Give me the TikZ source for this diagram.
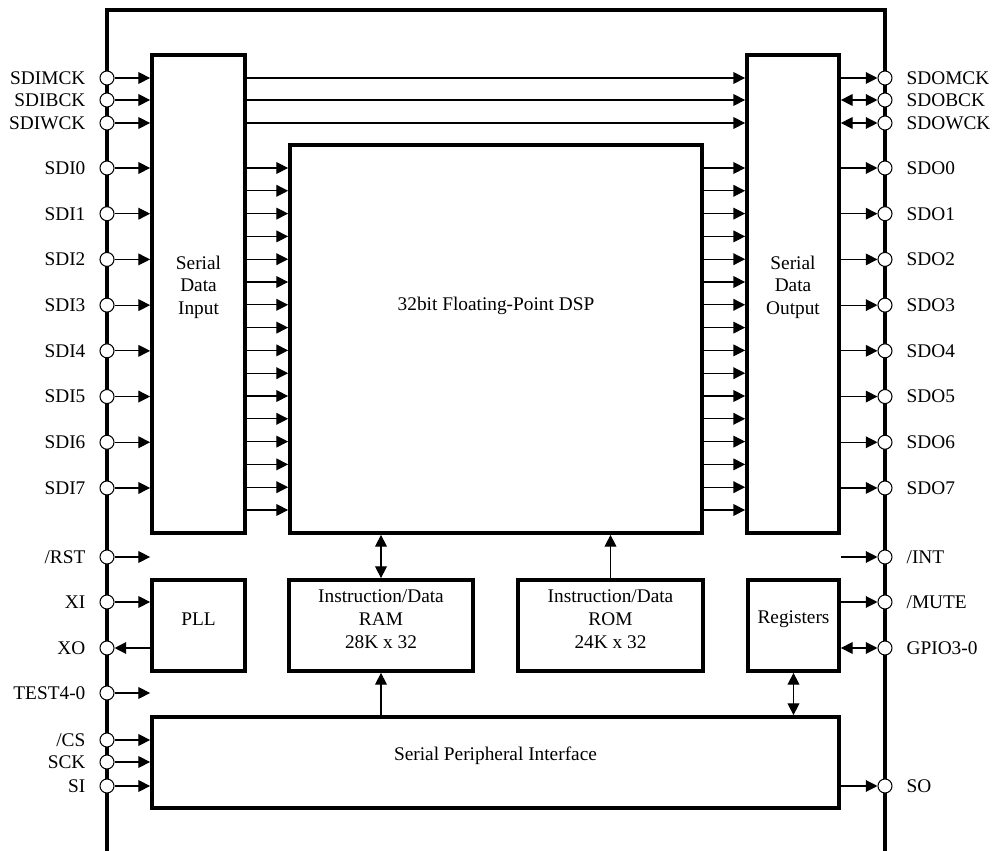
\documentclass[tikz,border=0pt]{standalone}
\usepackage{fontspec}
\setmainfont{Liberation Serif}
\usetikzlibrary{arrows.meta, positioning, fit, calc}

\begin{document}
\begin{tikzpicture}[
    x=0.03cm, y=-0.03cm,
    font=\fontsize{16.5}{19.5}\selectfont,
    outline/.style={line width=3.2pt},
    blk/.style={draw, line width=3.2pt, inner sep=0pt, align=center},
    pad/.style={circle, draw, fill=white, line width=0.9pt, minimum size=0.42cm, inner sep=0pt},
    lbl/.style={text height=11pt, text depth=0pt, label distance=8.5pt},
    sig/.style={-{Triangle[length=10pt, width=10pt]}, line width=1pt},
    bus/.style={{Triangle[length=10pt, width=10pt]}-{Triangle[length=10pt, width=10pt]}, line width=1pt}
]
\useasboundingbox (0,0) rectangle (994,851);

% chip outline
\draw[outline] (107,851) -- (107,10) -- (885,10) -- (885,851);

% blocks
\node[blk, fit={(152,55) (245,533)}] (sdi) {Serial\\Data\\Input};
\node[blk, fit={(747,55) (839,533)}] (sdo) {Serial\\Data\\Output};
\node[blk, fit={(290,145) (702,533)}] (dsp) {};
\node (dsptxt) at (496,306) {32bit Floating-Point DSP};
\node[blk, fit={(152,580) (245,671)}] (pll) {PLL};
\node[blk, fit={(289,580) (473,671)}] (ram) {Instruction/Data\\RAM\\28K x 32};
\node[blk, fit={(518,580) (703,671)}] (rom) {Instruction/Data\\ROM\\24K x 32};
\node[blk, fit={(748,580) (839,671)}] (reg) {Registers};
\node[blk, fit={(152,717) (839,808)}] (spi) {Serial Peripheral Interface};

% pins, left side
\foreach \nm/\txt/\y in {imck/SDIMCK/78, ibck/SDIBCK/100, iwck/SDIWCK/123,
    rst/{/RST}/557, xi/XI/602, xo/XO/648, test/TEST4-0/693,
    cs/{/CS}/740, sck/SCK/762, si/SI/786}
  \node[pad, label={[lbl]left:\txt}] (\nm) at (107,\y) {};
\foreach \i in {0,...,7}
  \node[pad, label={[lbl]left:SDI\i}] (pi\i) at (107,{168+45.71*\i}) {};

% pins, right side
\foreach \nm/\txt/\y in {omck/SDOMCK/78, obck/SDOBCK/100, owck/SDOWCK/123,
    int/{/INT}/557, mute/{/MUTE}/602, gpio/GPIO3-0/648, so/SO/786}
  \node[pad, label={[lbl]right:\txt}] (\nm) at (885,\y) {};
\foreach \i in {0,...,7}
  \node[pad, label={[lbl]right:SDO\i}] (po\i) at (885,{168+45.71*\i}) {};

% serial data in / out
\foreach \p in {imck, ibck, iwck} {
  \draw[sig] (\p) -- (\p -| sdi.west);
  \draw[sig] (\p -| sdi.east) -- (\p -| sdo.west);
}
\draw[sig] (omck -| sdo.east) -- (omck);
\draw[bus] (obck -| sdo.east) -- (obck);
\draw[bus] (owck -| sdo.east) -- (owck);
\foreach \i in {0,...,7} {
  \draw[sig] (pi\i) -- (pi\i -| sdi.west);
  \draw[sig] (po\i -| sdo.east) -- (po\i);
}

% data paths through the DSP
\foreach \k in {0,...,15} {
  \path (0,{168+22.8*\k}) coordinate (r\k);
  \draw[sig] (sdi.east |- r\k) -- (dsp.west |- r\k);
  \draw[sig] (dsp.east |- r\k) -- (sdo.west |- r\k);
}

% control pins
\draw[sig] (rst) -- (rst -| sdi.west);
\draw[sig] (xi) -- (xi -| pll.west);
\draw[sig] (xo -| pll.west) -- (xo);
\draw[sig] (test) -- (test -| sdi.west);
\foreach \p in {cs, sck, si}
  \draw[sig] (\p) -- (\p -| spi.west);
\draw[sig] (int -| sdo.east) -- (int);
\draw[sig] (mute -| reg.east) -- (mute);
\draw[bus] (gpio -| reg.east) -- (gpio);
\draw[sig] (so -| spi.east) -- (so);

% memory and register links
\draw[bus] (ram.north) -- (ram.north |- dsp.south);
\draw[sig] (rom.north) -- (rom.north |- dsp.south);
\draw[sig] (ram.south |- spi.north) -- (ram.south);
\draw[bus] (reg.south) -- (reg.south |- spi.north);
\end{tikzpicture}
\end{document}
